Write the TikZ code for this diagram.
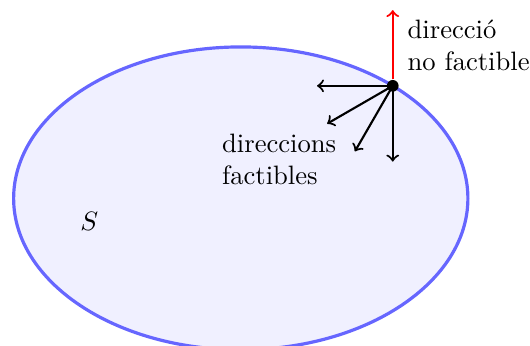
\documentclass[tikz,border=0pt]{standalone}
\begin{document}
\begin{tikzpicture}[
    conjunt/.style={draw=blue!60, fill=blue!6, very thick},
    dir/.style={->, thick},
    nodir/.style={->, thick, draw=red},
    punt/.style={circle, fill=black, inner sep=0pt, minimum size=4.4pt},
    etiqueta/.style={anchor=west, align=left}
]
\useasboundingbox (-3.18,-1.94) rectangle (3.82,2.62);

% Conjunt S
\draw[conjunt] (0,0) ellipse (3 and 2);
\node (s) at (-2,-0.3) {$S$};

% Punt de la frontera
\node[punt] (x) at (48:3 and 2) {};
\coordinate (d0) at ([shift={(90:1)}]x.center);
\coordinate (d1) at ([shift={(180:1)}]x.center);
\coordinate (d2) at ([shift={(210:1)}]x.center);
\coordinate (d3) at ([shift={(240:1)}]x.center);
\coordinate (d4) at ([shift={(270:1)}]x.center);

% Direccions factibles
\draw[dir] (x.center) -- (d1);
\draw[dir] (x.center) -- (d2);
\draw[dir] (x.center) -- (d3);
\draw[dir] (x.center) -- (d4);
\node[etiqueta] (fact) at (-0.37,0.51) {direccions\\factibles};

% Direccio no factible
\draw[nodir] (x) -- (d0);
\node[etiqueta] (nofact) at (2.08,2.02) {direcció\\no factible};

\end{tikzpicture}
\end{document}
